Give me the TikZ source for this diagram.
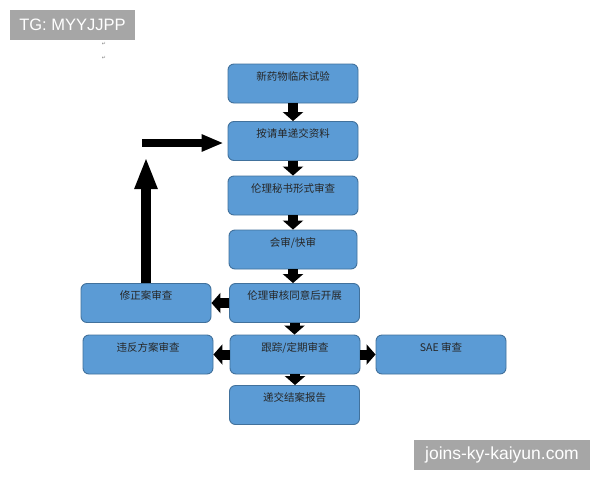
\documentclass[tikz,border=0pt]{standalone}
\usepackage{fontspec}
\setmainfont{Liberation Sans}
\newfontfamily\cjk{Noto Sans CJK SC}
\newfontfamily\symb{DejaVu Sans}
\usetikzlibrary{arrows.meta}
\definecolor{boxfill}{HTML}{5B9BD5}
\definecolor{boxline}{HTML}{41719C}
\definecolor{markgray}{HTML}{A6A6A6}
\tikzset{
  stepbox/.style={draw=boxline, fill=boxfill, line width=0.9pt, rounded corners=6pt,
    minimum width=130pt, inner xsep=0pt, inner ysep=2pt, text height=14pt, text depth=21pt,
    font=\cjk\fontsize{10.5}{12}\selectfont, text=black!85},
  blk/.style={line width=10pt, -{Triangle[width=20pt,length=9pt]}},
  wmark/.style={fill=markgray, text=white, inner sep=0pt}
}
\begin{document}
\begin{tikzpicture}[x=1pt, y=-1pt]
      \useasboundingbox[fill=white] (0,0) rectangle (600,480);
      \node[wmark, minimum width=125pt, minimum height=30pt, font=\fontsize{16.5}{18}\selectfont] (tg) at (72.5,25) {TG: MYYJJPP};
      \node[wmark, minimum width=176pt, minimum height=30pt, font=\fontsize{17.5}{19}\selectfont] (site) at (502,455) {joins-ky-kaiyun.com};
      \node[text=gray, font=\symb\fontsize{5}{6}\selectfont] (m1) at (104,44) {↵};
      \node[text=gray, font=\symb\fontsize{5}{6}\selectfont] (m2) at (104,58) {↵};
      \node[stepbox] (b1) at (293,83.5) {新药物临床试验};
      \node[stepbox] (b2) at (293,141) {按请单递交资料};
      \node[stepbox] (b3) at (293,195.5) {伦理秘书形式审查};
      \node[stepbox, minimum width=128pt] (b4) at (293,249.5) {会审/快审};
      \node[stepbox] (b5) at (294.5,303) {伦理审核同意后开展};
      \node[stepbox] (b6) at (295,354.5) {跟踪/定期审查};
      \node[stepbox] (b7) at (294.5,405) {递交结案报告};
      \node[stepbox] (l1) at (146,303) {修正案审查};
      \node[stepbox] (l2) at (148,354.5) {违反方案审查};
      \node[stepbox] (r1) at (441,354.5) {SAE 审查};
      \draw[blk] (b1) -- (b2);
      \draw[blk] (b2) -- (b3);
      \draw[blk] (b3) -- (b4);
      \draw[blk] (b4.south) -- (b4.south |- b5.north);
      \draw[blk] (b5.south) -- (b5.south |- b6.north);
      \draw[blk] (b6.south) -- (b6.south |- b7.north);
      \draw[blk] (b5) -- (l1);
      \draw[blk] (b6) -- (l2);
      \draw[blk] (b6) -- (r1);
      \coordinate (up) at (146,157);
      \coordinate (back) at (142,143);
      \draw[line width=10pt, -{Triangle[width=21pt,length=32pt]}] (l1.north) -- (up);
      \draw[line width=8pt, -{Triangle[width=16pt,length=22pt]}, shorten >=4pt] (back) -- (back -| b2.west);
    \end{tikzpicture}
\end{document}
